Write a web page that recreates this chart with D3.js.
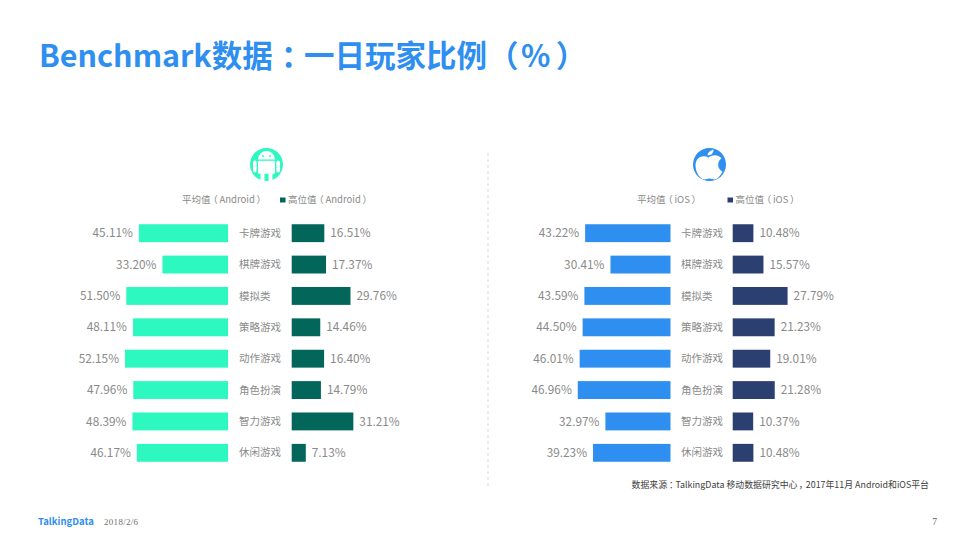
<!DOCTYPE html>
<html>
<head>
<meta charset="utf-8">
<script src="https://cdn.jsdelivr.net/npm/d3@7"></script>
<style>
    html, body { margin: 0; padding: 0; background: #fff; }
    text { font-family: "Noto Sans CJK SC", "Noto Sans", sans-serif; }
</style>
</head>
<body>
<svg id="chart" width="973" height="547"></svg>
<script>
const categories = ["卡牌游戏", "棋牌游戏", "模拟类", "策略游戏", "动作游戏", "角色扮演", "智力游戏", "休闲游戏"];
const androidAvg = [45.11, 33.20, 51.50, 48.11, 52.15, 47.96, 48.39, 46.17];
const androidTop = [16.51, 17.37, 29.76, 14.46, 16.40, 14.79, 31.21, 7.13];
const iosAvg = [43.22, 30.41, 43.59, 44.50, 46.01, 46.96, 32.97, 39.23];
const iosTop = [10.48, 15.57, 27.79, 21.23, 19.01, 21.28, 10.37, 10.48];

const svg = d3.select("#chart");
const grey = "#8a8a8a";

// title is split so the full-width punctuation sits where the original has it
const title = svg.append("text")
    .attr("y", 67)
    .style("font-size", "30.5px").style("font-weight", 700)
    .style("font-feature-settings", "'palt'")
    .style("fill", "#2e8ff0");
title.selectAll("tspan")
    .data([
        ["Benchmark数据", 39], ["：", 281], ["一日玩家比例", 304],
        ["（", 502], ["%", 521], ["）", 557]
    ])
    .enter().append("tspan")
    .attr("x", d => d[1])
    .text(d => d[0]);

const y = d3.scaleBand().domain(categories).range([217.5, 468.5]).paddingInner(0.43).paddingOuter(0.215);
const w = d3.scaleLinear().domain([0, 100]).range([0, 197.5]);

function legendText(g, x, str) {
    // palt trims the side bearings of the full-width brackets
    g.append("text")
        .attr("x", x).attr("y", 203)
        .style("font-size", "9.5px").style("fill", grey)
        .style("font-feature-settings", "'palt'")
        .text(str);
}

function drawPanel(opt) {
    const g = svg.append("g");

    // left bars grow from the right edge, right bars from the left edge
    g.selectAll(".avg").data(opt.avg).enter().append("rect")
        .attr("x", d => opt.leftEdge - w(d))
        .attr("y", (d, i) => y(categories[i]))
        .attr("width", d => w(d))
        .attr("height", y.bandwidth())
        .style("fill", opt.avgColor);

    g.selectAll(".top").data(opt.top).enter().append("rect")
        .attr("x", opt.rightEdge)
        .attr("y", (d, i) => y(categories[i]))
        .attr("width", d => w(d))
        .attr("height", y.bandwidth())
        .style("fill", opt.topColor);

    const mid = d => y(d) + y.bandwidth() / 2;

    g.selectAll(".avgLabel").data(opt.avg).enter().append("text")
        .attr("x", d => opt.leftEdge - w(d) - 6)
        .attr("y", (d, i) => mid(categories[i]))
        .attr("dy", "0.35em").attr("text-anchor", "end")
        .style("font-size", "11.8px").style("fill", grey)
        .text(d => d.toFixed(2) + "%");

    g.selectAll(".topLabel").data(opt.top).enter().append("text")
        .attr("x", d => opt.rightEdge + w(d) + 6)
        .attr("y", (d, i) => mid(categories[i]))
        .attr("dy", "0.35em")
        .style("font-size", "11.8px").style("fill", grey)
        .text(d => d.toFixed(2) + "%");

    g.selectAll(".cat").data(categories).enter().append("text")
        .attr("x", opt.catX)
        .attr("y", d => mid(d))
        .attr("dy", "0.35em")
        .style("font-size", "10.5px").style("fill", grey)
        .text(d => d);

    // legend
    legendText(g, opt.legendX, "平均值 （ " + opt.osName + " ）");
    g.append("rect")
        .attr("x", opt.swatchX).attr("y", 197.5)
        .attr("width", 5.5).attr("height", 5)
        .style("fill", opt.topColor);
    legendText(g, opt.swatchX + 8, "高位值 （ " + opt.osName + " ）");
}

drawPanel({
    avg: androidAvg, top: androidTop,
    leftEdge: 228, rightEdge: 291.7, catX: 239,
    avgColor: "#2cf8c0", topColor: "#02665a",
    legendX: 182, swatchX: 280, osName: "Android"
});

drawPanel({
    avg: iosAvg, top: iosTop,
    leftEdge: 670.5, rightEdge: 732.7, catX: 681,
    avgColor: "#2e8ff0", topColor: "#2b3f70",
    legendX: 637, swatchX: 727.5, osName: "iOS"
});

// divider
svg.append("line")
    .attr("x1", 488).attr("x2", 488).attr("y1", 153).attr("y2", 487)
    .style("stroke", "#d9d9d9").style("stroke-dasharray", "3,3");

// android icon
const droid = svg.append("g").attr("transform", "translate(266.5,164.5)");
droid.append("circle").attr("r", 16.5).style("fill", "#2cf8c0");
droid.append("path")
    .attr("d", "M-8.5,-5 A8.5,8.5 0 0 1 8.5,-5 Z")
    .style("fill", "#fff");
droid.append("rect").attr("x", -8.5).attr("y", -3.8).attr("width", 17).attr("height", 13).attr("rx", 1).style("fill", "#fff");
droid.append("rect").attr("x", -13.5).attr("y", -4).attr("width", 3.6).attr("height", 12).attr("rx", 1.8).style("fill", "#fff");
droid.append("rect").attr("x", 9.9).attr("y", -4).attr("width", 3.6).attr("height", 12).attr("rx", 1.8).style("fill", "#fff");
droid.append("rect").attr("x", -6).attr("y", 9).attr("width", 4).attr("height", 7.5).style("fill", "#fff");
droid.append("rect").attr("x", 2).attr("y", 9).attr("width", 4).attr("height", 7.5).style("fill", "#fff");
droid.append("circle").attr("cx", -3.5).attr("cy", -8.5).attr("r", 0.9).style("fill", "#2cf8c0");
droid.append("circle").attr("cx", 3.5).attr("cy", -8.5).attr("r", 0.9).style("fill", "#2cf8c0");

// apple icon
const apple = svg.append("g").attr("transform", "translate(709.5,164.5)");
apple.append("circle").attr("r", 16.5).style("fill", "#2e8ff0");
apple.append("path")
    .attr("d", "M-1,-7 C-6,-10 -14,-8 -14,1 C-14,8 -9,15 -5,15 C-3,15 -2,14 0,14 C2,14 3,15 5,15 C8,15 11,11 13,7 C8,5 7,-3 12,-6 C9,-10 3,-10 -1,-7 Z")
    .style("fill", "#fff");
apple.append("path")
    .attr("d", "M-2,-9 C-2,-12 1,-14 4,-15 C4,-12 2,-9 -2,-9 Z")
    .style("fill", "#fff");

// source + footer
svg.append("text")
    .attr("x", 929).attr("y", 488).attr("text-anchor", "end")
    .style("font-size", "8.9px").style("fill", "#404040")
    .style("font-feature-settings", "'palt'")
    .text("数据来源 ： TalkingData 移动数据研究中心 ， 2017年11月 Android和iOS平台");

svg.append("text")
    .attr("x", 38).attr("y", 525)
    .style("font-size", "9.5px").style("font-weight", 700)
    .style("fill", "#2e8ff0")
    .text("TalkingData");

svg.append("text")
    .attr("x", 104).attr("y", 525)
    .style("font-family", "'Liberation Serif', serif")
    .style("font-size", "9px").style("letter-spacing", "0.3px").style("fill", "#707070")
    .text("2018/2/6");

svg.append("text")
    .attr("x", 937).attr("y", 525).attr("text-anchor", "end")
    .style("font-family", "'Liberation Serif', serif")
    .style("font-size", "9.5px").style("fill", "#606060")
    .text("7");
</script>
</body>
</html>
